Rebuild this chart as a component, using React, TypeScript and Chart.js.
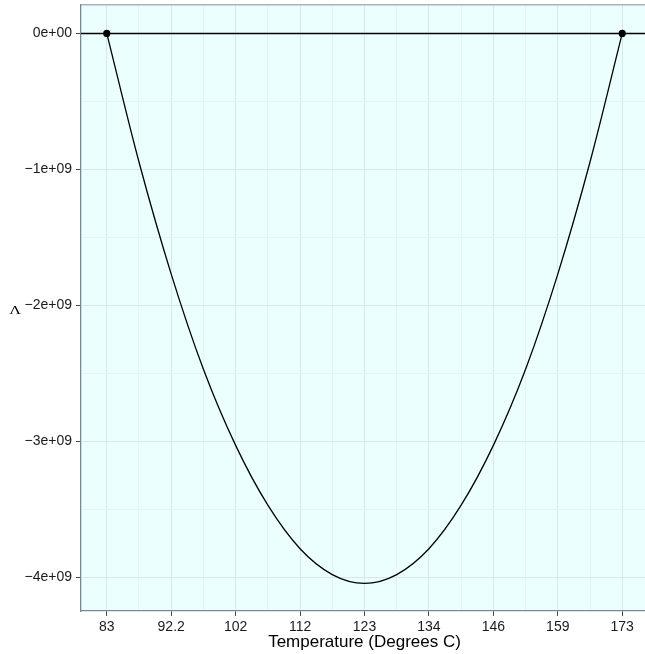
import React, { useEffect, useRef } from 'react';
import { Chart, registerables } from 'chart.js';

Chart.register(...registerables);

// Temperature axis: labels of the (inverse-Kelvin) scale, placed at equal steps
const xTickLabels = ['83', '92.2', '102', '112', '123', '134', '146', '159', '173'];
const yTickValues = [0, -1e9, -2e9, -3e9, -4e9];
const yTickLabels = ['0e+00', '\u22121e+09', '\u22122e+09', '\u22123e+09', '\u22124e+09'];

// Curve samples: position along the temperature axis (in tick steps) and Λ
const curvePositions = [0, 0.5, 1, 1.5, 2, 2.5, 3, 3.5, 4, 4.5, 5, 5.5, 6, 6.5, 7, 7.5, 8];
const lambdaValues = [
  0, -0.946e9, -1.77e9, -2.47e9, -3.03e9, -3.47e9, -3.79e9, -3.98e9, -4.045e9,
  -3.98e9, -3.79e9, -3.47e9, -3.03e9, -2.47e9, -1.77e9, -0.946e9, 0,
];

// Roots marked with dots
const rootPositions = [0, 8];
const rootValues = [0, 0];

const xTitle = 'Temperature (Degrees C)';
const yTitle = '\u039B';

const PANEL_BG = '#ebffff';
const MAJOR_GRID = '#d7e5f7';
const MINOR_GRID = '#e4f3fa';
const AXIS_LINE = '#7b8796';
const TICK_FONT = { family: '"Liberation Sans", Arial, Helvetica, sans-serif', size: 14 };

const panelPlugin = {
  id: 'panelPlugin',
  beforeDraw(chart: any) {
    const { ctx, chartArea } = chart;
    ctx.save();
    ctx.fillStyle = PANEL_BG;
    ctx.fillRect(chartArea.left, chartArea.top, chartArea.right - chartArea.left, chartArea.bottom - chartArea.top);
    ctx.restore();
  },
  beforeDatasetsDraw(chart: any) {
    const { ctx, chartArea, scales } = chart;
    const y0 = scales.y.getPixelForValue(0);
    ctx.save();
    ctx.strokeStyle = '#000000';
    ctx.lineWidth = 1.5;
    ctx.beginPath();
    ctx.moveTo(chartArea.left, y0);
    ctx.lineTo(chartArea.right, y0);
    ctx.stroke();
    ctx.restore();
  },
  afterDraw(chart: any) {
    const { ctx, chartArea } = chart;
    ctx.save();
    ctx.strokeStyle = '#a9b1bb';
    ctx.lineWidth = 1.5;
    ctx.beginPath();
    ctx.moveTo(chartArea.left, chartArea.top - 0.25);
    ctx.lineTo(chartArea.right, chartArea.top - 0.25);
    ctx.stroke();
    ctx.fillStyle = '#000000';
    ctx.font = '12px "Liberation Serif", "Times New Roman", serif';
    ctx.textAlign = 'center';
    ctx.textBaseline = 'alphabetic';
    ctx.translate(15, (chartArea.top + chartArea.bottom) / 2 + 6);
    ctx.scale(1.35, 1);
    ctx.fillText(yTitle, 0, 0);
    ctx.restore();
  },
};

export default function App() {
  const canvasRef = useRef<HTMLCanvasElement | null>(null);

  useEffect(() => {
    const canvas = canvasRef.current;
    if (!canvas) return;
    document.body.style.margin = '0';

    const curve = curvePositions.map((x, i) => ({ x, y: lambdaValues[i] }));
    const roots = rootPositions.map((x, i) => ({ x, y: rootValues[i] }));
    const nX = xTickLabels.length;

    const chart = new Chart(canvas, {
      type: 'line',
      data: {
        datasets: [
          {
            data: curve,
            borderColor: '#000000',
            borderWidth: 1.3,
            pointRadius: 0,
            fill: false,
            cubicInterpolationMode: 'monotone',
          },
          {
            data: roots,
            showLine: false,
            pointRadius: 3.6,
            pointBackgroundColor: '#000000',
            pointBorderWidth: 0,
            borderColor: '#000000',
          },
        ],
      },
      plugins: [panelPlugin],
      options: {
        animation: false,
        responsive: false,
        layout: { padding: { top: 5, right: 0, left: 0, bottom: 0 } },
        plugins: { legend: { display: false }, tooltip: { enabled: false } },
        scales: {
          x: {
            type: 'linear',
            min: -0.4,
            max: nX - 1 + 0.4,
            afterBuildTicks: (scale: any) => {
              const t = [];
              for (let i = 0; i <= (nX - 1) * 2; i++) t.push({ value: i / 2 });
              scale.ticks = t;
            },
            afterFit: (scale: any) => {
              scale.height = 43;
              scale.paddingLeft = 0;
              scale.paddingRight = 0;
            },
            ticks: {
              autoSkip: false,
              maxRotation: 0,
              minRotation: 0,
              padding: 3,
              color: '#1a1a1a',
              font: TICK_FONT,
              callback: (value: any) => (Number.isInteger(value) ? xTickLabels[value] : ''),
            },
            grid: {
              color: (ctx: any) => (ctx.tick && Number.isInteger(ctx.tick.value) ? MAJOR_GRID : MINOR_GRID),
              tickColor: (ctx: any) => (ctx.tick && Number.isInteger(ctx.tick.value) ? '#4a4a4a' : 'rgba(0,0,0,0)'),
              tickLength: 5,
              lineWidth: 1,
            },
            border: { display: true, color: AXIS_LINE, width: 1.3 },
            title: {
              display: true,
              text: xTitle,
              color: '#000000',
              font: { family: '"Liberation Sans", Arial, Helvetica, sans-serif', size: 17 },
              padding: { top: 0, bottom: 1 },
            },
          },
          y: {
            type: 'linear',
            min: -4.248e9,
            max: 0.209e9,
            afterBuildTicks: (scale: any) => {
              const t = [];
              for (let v = -4e9; v <= 0; v += 0.5e9) t.push({ value: v });
              scale.ticks = t;
            },
            afterFit: (scale: any) => {
              scale.width = 81;
              scale.paddingTop = 0;
              scale.paddingBottom = 0;
            },
            ticks: {
              autoSkip: false,
              padding: 4,
              color: '#1a1a1a',
              font: TICK_FONT,
              callback: (value: any) => {
                const k = yTickValues.indexOf(value);
                return k >= 0 ? yTickLabels[k] : '';
              },
            },
            grid: {
              color: (ctx: any) => (ctx.tick && ctx.tick.value % 1e9 === 0 ? MAJOR_GRID : MINOR_GRID),
              tickColor: (ctx: any) => (ctx.tick && ctx.tick.value % 1e9 === 0 ? '#4a4a4a' : 'rgba(0,0,0,0)'),
              tickLength: 5,
              lineWidth: 1,
            },
            border: { display: true, color: AXIS_LINE, width: 1.3 },
          },
        },
      },
    } as any);

    return () => chart.destroy();
  }, []);

  return (
    <div style={{ position: 'fixed', left: 0, top: 0, width: 645, height: 654, overflow: 'hidden', background: '#ffffff' }}>
      <canvas ref={canvasRef} width={652} height={654} style={{ width: 652, height: 654, display: 'block' }} />
    </div>
  );
}
